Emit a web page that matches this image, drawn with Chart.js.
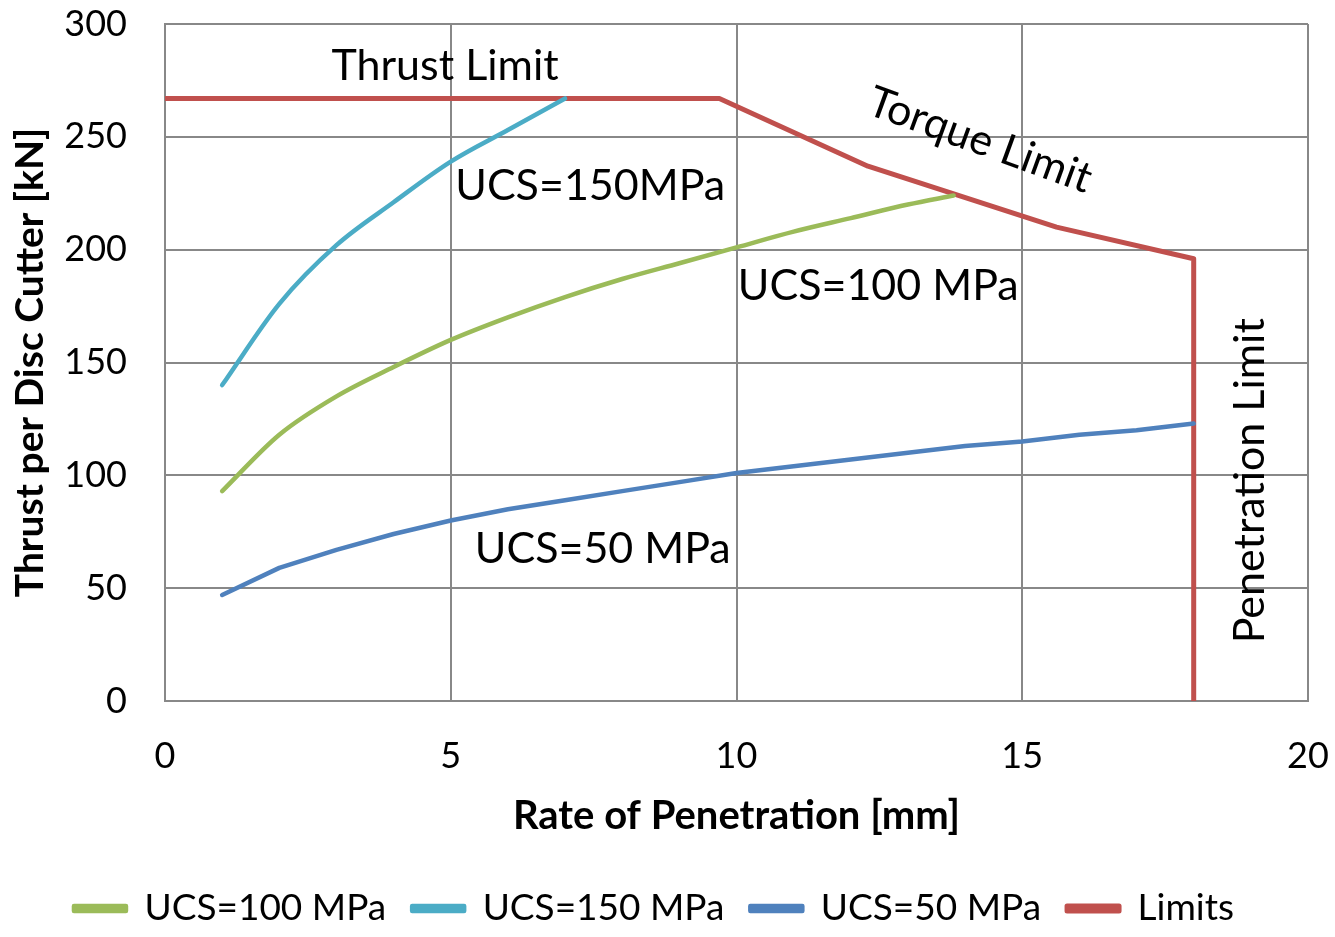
<!DOCTYPE html>
<html>
<head>
<meta charset="utf-8">
<script src="https://cdn.jsdelivr.net/npm/chart.js@4.4.0/dist/chart.umd.min.js"></script>
<style>
  html, body { margin: 0; padding: 0; background: #fff; }
  #wrap { width: 1335px; height: 937px; }
</style>
</head>
<body>
<div id="wrap"><canvas id="chart"></canvas></div>
<script>
// DATA
// rate of penetration [mm] for each series
const ropUcs100 = [1, 2, 3, 4, 5, 6, 7, 8, 9, 10, 11, 12, 13, 13.8];
const thrustUcs100 = [93, 118, 135, 148, 160, 170, 179, 187, 194, 201, 208, 214, 220, 224];

const ropUcs150 = [1, 2, 3, 4, 5, 6, 7];
const thrustUcs150 = [140, 176, 202, 221, 239, 253, 267];

const ropUcs50 = [1, 2, 3, 4, 5, 6, 7, 8, 9, 10, 11, 12, 13, 14, 15, 16, 17, 18];
const thrustUcs50 = [47, 59, 67, 74, 80, 85, 89, 93, 97, 101, 104, 107, 110, 113, 115, 118, 120, 123];

const ropLimits = [0, 9.7, 12.3, 15.6, 18, 18];
const thrustLimits = [267, 267, 237, 210, 196, 0];

const xTicks = [0, 5, 10, 15, 20];
const yTicks = [0, 50, 100, 150, 200, 250, 300];

// text labels inside the plot
const labelTexts = ['Thrust Limit', 'UCS=150MPa', 'UCS=100 MPa', 'UCS=50 MPa', 'Torque Limit', 'Penetration Limit'];
const labelX = [4.9, 7.44, 12.48, 7.66, 14.26, 18.98];
const labelY = [281.4, 228, 183.7, 67.5, 248.5, 97.6];
const labelRot = [0, 0, 0, 0, 20, -90];

const FONT = 'Lato, "Open Sans", sans-serif';

function pts(xs, ys) {
  return xs.map(function (x, i) { return { x: x, y: ys[i] }; });
}

// draws the labels inside the plot
const plotLabels = {
  id: 'plotLabels',
  afterDatasetsDraw(chart) {
    const ctx = chart.ctx;
    const xs = chart.scales.x;
    const ys = chart.scales.y;
    ctx.save();
    ctx.fillStyle = '#000';
    ctx.font = '43px ' + FONT;
    ctx.textAlign = 'center';
    ctx.textBaseline = 'middle';
    for (let i = 0; i < labelTexts.length; i++) {
      ctx.save();
      ctx.translate(xs.getPixelForValue(labelX[i]), ys.getPixelForValue(labelY[i]));
      ctx.rotate(labelRot[i] * Math.PI / 180);
      ctx.fillText(labelTexts[i], 0, 0);
      ctx.restore();
    }
    ctx.restore();
  }
};

const config = {
  type: 'line',
  data: {
    datasets: [
      {
        label: 'UCS=100 MPa',
        data: pts(ropUcs100, thrustUcs100),
        borderColor: '#9BBB59',
        backgroundColor: '#9BBB59',
        cubicInterpolationMode: 'monotone'
      },
      {
        label: 'UCS=150 MPa',
        data: pts(ropUcs150, thrustUcs150),
        borderColor: '#4BACC6',
        backgroundColor: '#4BACC6',
        cubicInterpolationMode: 'monotone'
      },
      {
        label: 'UCS=50 MPa',
        data: pts(ropUcs50, thrustUcs50),
        borderColor: '#4F81BD',
        backgroundColor: '#4F81BD'
      },
      {
        label: 'Limits',
        data: pts(ropLimits, thrustLimits),
        borderColor: '#C0504D',
        backgroundColor: '#C0504D',
        borderWidth: 5
      }
    ]
  },
  options: {
    responsive: true,
    maintainAspectRatio: false,
    animation: false,
    devicePixelRatio: 1,
    layout: { autoPadding: false, padding: { top: 24, right: 27, bottom: 0, left: 0 } },
    elements: {
      point: { radius: 0 },
      line: { borderWidth: 4.5, tension: 0, borderCapStyle: 'round', borderJoinStyle: 'round' }
    },
    scales: {
      x: {
        type: 'linear',
        min: 0,
        max: 20,
        afterBuildTicks(scale) { scale.ticks = xTicks.map(function (v) { return { value: v }; }); },
        afterFit(scale) {
          scale.height = 163;
          scale.paddingLeft = 0;
          scale.paddingRight = 0;
        },
        grid: { color: '#888', lineWidth: 2, drawTicks: false },
        border: { color: '#888', width: 2 },
        ticks: { color: '#000', font: { family: FONT, size: 36 }, padding: 34 },
        title: {
          display: true,
          text: 'Rate of Penetration [mm]',
          color: '#000',
          font: { family: FONT, size: 40, weight: 'bold' },
          padding: { top: 10, bottom: 24 }
        }
      },
      y: {
        type: 'linear',
        min: 0,
        max: 300,
        afterBuildTicks(scale) { scale.ticks = yTicks.map(function (v) { return { value: v }; }); },
        afterFit(scale) {
          scale.width = 165;
          scale.paddingTop = 0;
          scale.paddingBottom = 0;
        },
        grid: { color: '#888', lineWidth: 2, drawTicks: false },
        border: { color: '#888', width: 2 },
        ticks: { color: '#000', font: { family: FONT, size: 36 }, padding: 38 },
        title: {
          display: true,
          text: 'Thrust per Disc Cutter [kN]',
          color: '#000',
          font: { family: FONT, size: 39, weight: 'bold' },
          padding: { top: 7, bottom: 0 }
        }
      }
    },
    plugins: {
      tooltip: { enabled: false },
      legend: {
        position: 'bottom',
        labels: {
          color: '#000',
          font: { family: FONT, size: 37 },
          boxWidth: 52,
          boxHeight: 5,
          padding: 26
        }
      }
    }
  },
  plugins: [plotLabels]
};

const lineChart = new Chart(document.getElementById('chart'), config);
</script>
</body>
</html>
